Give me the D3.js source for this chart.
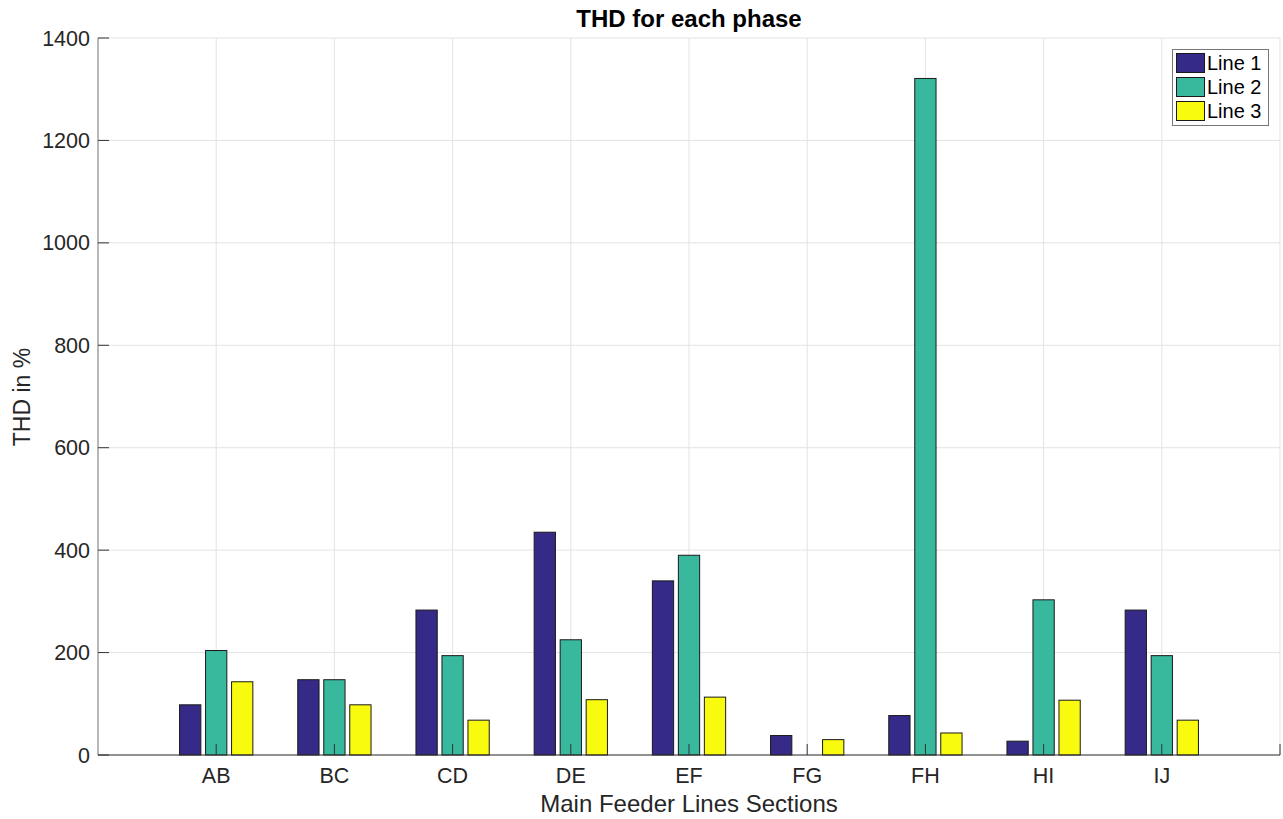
<!DOCTYPE html>
<html><head><meta charset="utf-8">
<script src="https://cdn.jsdelivr.net/npm/d3@7"></script>
<style>body{margin:0;background:#fff;}svg{display:block;font-family:"Liberation Sans",Arial,sans-serif;}</style>
</head><body><svg id="c" width="1283" height="819"></svg>
<script>
const categories = ["AB","BC","CD","DE","EF","FG","FH","HI","IJ"];
const line1 = [98,147,283,435,340,38,77,27,283];
const line2 = [204,147,194,225,390,0,1321,303,194];
const line3 = [143,98,68,108,113,30,43,107,68];
const seriesNames = ["Line 1","Line 2","Line 3"];
const colors = ["#352a87","#38b99e","#f9fb0e"];
const yTicks = [0,200,400,600,800,1000,1200,1400];

const series = [line1,line2,line3];
const svg = d3.select("#c");
const L=98,R=1280,T=38,B=755;
const x = d3.scaleLinear().domain([0,categories.length+1]).range([L,R]);
const y = d3.scaleLinear().domain([0,1400]).range([B,T]);
const off = [-0.22,0,0.22], bw = 0.18;

// grid
svg.append("g").selectAll("line").data(yTicks).join("line")
 .attr("x1",L).attr("x2",R).attr("y1",d=>y(d)).attr("y2",d=>y(d))
 .attr("stroke","#e3e3e3").attr("stroke-width",1);
svg.append("g").selectAll("line").data(categories).join("line")
 .attr("x1",(d,i)=>x(i+1)).attr("x2",(d,i)=>x(i+1)).attr("y1",T).attr("y2",B)
 .attr("stroke","#e3e3e3").attr("stroke-width",1);
svg.append("line").attr("x1",R).attr("x2",R).attr("y1",T).attr("y2",B).attr("stroke","#e3e3e3");

// bars
series.forEach((s,k)=>{
  svg.append("g").selectAll("rect").data(s).join("rect")
   .attr("x",(d,i)=>x(i+1+off[k]-bw/2))
   .attr("width",x(bw)-x(0))
   .attr("y",d=>y(d)).attr("height",d=>y(0)-y(d))
   .attr("fill",colors[k]).attr("stroke","#1a1a1a").attr("stroke-width",1);
});

// axes
svg.append("line").attr("x1",L).attr("x2",L).attr("y1",T).attr("y2",B).attr("stroke","#888").attr("stroke-width",1.2);
svg.append("line").attr("x1",L).attr("x2",R).attr("y1",B).attr("y2",B).attr("stroke","#333").attr("stroke-width",1.2);
svg.append("g").selectAll("line").data(yTicks).join("line")
 .attr("x1",L).attr("x2",L+11).attr("y1",d=>y(d)).attr("y2",d=>y(d)).attr("stroke","#333");
svg.append("g").selectAll("line").data(categories).join("line")
 .attr("x1",(d,i)=>x(i+1)).attr("x2",(d,i)=>x(i+1)).attr("y1",B).attr("y2",B-11).attr("stroke","#333");
svg.append("line").attr("x1",R).attr("x2",R).attr("y1",B).attr("y2",B-11).attr("stroke","#333");

svg.append("g").selectAll("text").data(yTicks).join("text")
 .attr("x",L-8).attr("y",d=>y(d)).attr("dy","0.35em").attr("text-anchor","end")
 .attr("font-size",21.5).attr("fill","#262626").text(d=>d);
svg.append("g").selectAll("text").data(categories).join("text")
 .attr("x",(d,i)=>x(i+1)).attr("y",783).attr("text-anchor","middle")
 .attr("font-size",21.5).attr("fill","#262626").text(d=>d);

svg.append("text").attr("x",(L+R)/2).attr("y",812).attr("text-anchor","middle")
 .attr("font-size",24).attr("fill","#262626").text("Main Feeder Lines Sections");
svg.append("text").attr("transform","translate(30,397) rotate(-90)").attr("text-anchor","middle")
 .attr("font-size",23).attr("fill","#262626").text("THD in %");
svg.append("text").attr("x",(L+R)/2).attr("y",27).attr("text-anchor","middle")
 .attr("font-size",24).attr("font-weight","bold").attr("fill","#000").text("THD for each phase");

// legend
const lg = svg.append("g");
lg.append("rect").attr("x",1172.5).attr("y",49.5).attr("width",96).attr("height",76)
 .attr("fill","#fff").attr("stroke","#777");
seriesNames.forEach((n,k)=>{
  lg.append("rect").attr("x",1176.5).attr("y",53.5+k*24).attr("width",28).attr("height",19)
   .attr("fill",colors[k]).attr("stroke","#1a1a1a");
  lg.append("text").attr("x",1207).attr("y",63+k*24).attr("dy","0.35em")
   .attr("font-size",20).attr("fill","#000").text(n);
});
</script></body></html>
